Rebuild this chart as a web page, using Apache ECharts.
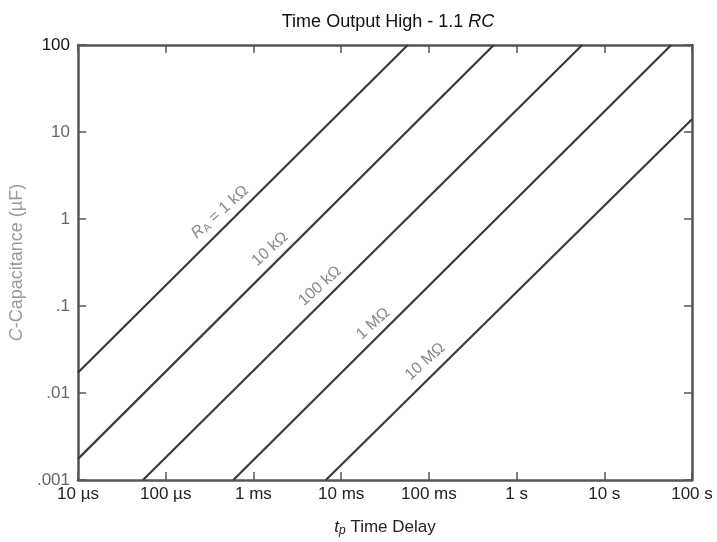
<!DOCTYPE html>
<html>
<head>
<meta charset="utf-8">
<script src="https://cdn.jsdelivr.net/npm/echarts@6/dist/echarts.min.js"></script>
<style>html,body{margin:0;padding:0;background:#fff}#c{width:717px;height:542px}</style>
</head>
<body>
<div id="c"></div>
<script>
// Time delay t (s) vs capacitance C (µF), endpoints of each straight (log-log) line
var xTickLabels = ['10 µs','100 µs','1 ms','10 ms','100 ms','1 s','10 s','100 s'];
var yTickLabels = ['.001','.01','.1','1','10','100'];
var seriesNames = ['1 kΩ','10 kΩ','100 kΩ','1 MΩ','10 MΩ'];
var line1k   = [[1e-5, 0.0172], [0.0575, 100]];
var line10k  = [[1e-5, 0.00175], [0.55, 100]];
var line100k = [[5.5e-5, 0.001], [5.6, 100]];
var line1M   = [[5.9e-4, 0.001], [58, 100]];
var line10M  = [[6.7e-3, 0.001], [100, 14]];
var lineLabels = ['{i|R}{sub|A}{n| = 1 kΩ}', '10 kΩ', '100 kΩ', '1 MΩ', '10 MΩ'];
var labelPoints = [[4.16e-4, 1.2], [1.545e-3, 0.451], [5.74e-3, 0.170], [0.0231, 0.0625], [0.0906, 0.023]];

var chart = echarts.init(document.getElementById('c'));
var FONT = 'Liberation Sans, Arial, sans-serif';
var lines = [line1k, line10k, line100k, line1M, line10M];
var series = lines.map(function (d, i) {
  return {
    name: seriesNames[i], type: 'line', data: d, showSymbol: false, symbol: 'none',
    lineStyle: {color: '#3a3a3a', width: 2.2}, silent: true, z: 3
  };
});
series.push({
  type: 'scatter', symbolSize: 0, silent: true, z: 4,
  data: labelPoints.map(function (p, i) { return {value: p, label: {formatter: lineLabels[i]}}; }),
  label: {
    show: true, position: 'inside', rotate: 42, color: '#6a6a6a', fontSize: 16, fontFamily: FONT,
    rich: {
      i: {fontStyle: 'italic', fontSize: 16, color: '#6a6a6a', fontFamily: FONT},
      sub: {fontSize: 11, color: '#6a6a6a', fontFamily: FONT, padding: [7, 0, 0, 0]},
      n: {fontSize: 16, color: '#6a6a6a', fontFamily: FONT}
    }
  }
});

function expIdx(v, base) { return Math.round(Math.log10(v)) - base; }

var axisLine = {show: true, lineStyle: {color: '#555', width: 2.5}};
var tick = {show: true, inside: true, length: 8, lineStyle: {color: '#555', width: 1.5}};

chart.setOption({
  animation: false,
  title: {
    text: '{t|Time Output High - 1.1 }{ti|RC}', left: 383, textAlign: 'center', top: 8,
    textStyle: {fontWeight: 'normal', rich: {
      t: {fontSize: 18, color: '#111', fontWeight: 'normal', fontFamily: FONT},
      ti: {fontSize: 18, color: '#111', fontWeight: 'normal', fontStyle: 'italic', fontFamily: FONT}
    }}
  },
  grid: {left: 78, right: 25, top: 45, bottom: 60},
  xAxis: [{
    type: 'log', logBase: 10, min: 1e-5, max: 100, position: 'bottom',
    axisLine: axisLine, axisTick: tick, minorTick: {show: false}, splitLine: {show: false},
    axisLabel: {color: '#222', fontSize: 17, fontFamily: FONT, margin: 6,
      formatter: function (v) { return xTickLabels[expIdx(v, -5)]; }},
    name: '{i|t}{sub|p}{n| Time Delay}', nameLocation: 'middle', nameGap: 38,
    nameTextStyle: {rich: {
      i: {fontStyle: 'italic', fontSize: 17, color: '#222', fontFamily: FONT},
      sub: {fontStyle: 'italic', fontSize: 12, color: '#222', fontFamily: FONT, padding: [7, 0, 0, 0]},
      n: {fontSize: 17, color: '#222', fontFamily: FONT}
    }}
  }, {
    type: 'log', logBase: 10, min: 1e-5, max: 100, position: 'top',
    axisLine: axisLine, axisTick: tick, axisLabel: {show: false}, splitLine: {show: false}
  }],
  yAxis: [{
    type: 'log', logBase: 10, min: 0.001, max: 100, position: 'left',
    axisLine: axisLine, axisTick: tick, minorTick: {show: false}, splitLine: {show: false},
    axisLabel: {color: '#666', fontSize: 17, fontFamily: FONT, margin: 8,
      formatter: function (v) {
        var s = yTickLabels[expIdx(v, -3)];
        return s === '100' ? '{b|' + s + '}' : s;
      },
      rich: {b: {color: '#111', fontSize: 17, fontFamily: FONT}}},
    name: '{i|C}{n|-Capacitance (µF)}', nameLocation: 'middle', nameGap: 52, nameRotate: 90,
    nameTextStyle: {rich: {
      i: {fontStyle: 'italic', fontSize: 18, color: '#999', fontFamily: FONT},
      n: {fontSize: 18, color: '#999', fontFamily: FONT}
    }}
  }, {
    type: 'log', logBase: 10, min: 0.001, max: 100, position: 'right',
    axisLine: axisLine, axisTick: tick, axisLabel: {show: false}, splitLine: {show: false}
  }],
  series: series
});
</script>
</body>
</html>
